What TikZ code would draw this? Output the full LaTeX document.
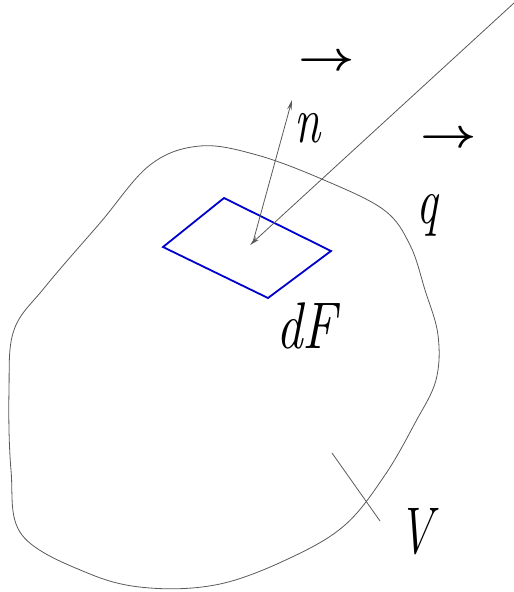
\documentclass[tikz,border=0pt]{standalone}
\usetikzlibrary{arrows.meta}
\tikzset{
  thinline/.style={draw=black!65, line width=0.8pt},
  vecarrow/.style={thinline, -{Stealth[length=10pt,width=4.5pt]}},
  patch/.style={draw=blue!80!black, line width=1.8pt, line join=miter},
  lbl/.style={inner sep=0pt, anchor=base west, font=\fontsize{66}{70}\selectfont\itshape},
  arr/.style={inner sep=0pt, anchor=base west}
}
\newcommand{\vecsign}{\scalebox{4.9}[4.1]{\boldmath$\rightarrow$}}
\newcommand{\lblsq}[1]{\scalebox{0.72}[1]{#1}}
\begin{document}
\begin{tikzpicture}[x=1pt,y=-1pt]
\useasboundingbox (0,0) rectangle (514,592);
% volume outline
\draw[thinline] plot[smooth cycle, tension=0.6] coordinates {
 (200,146) (257,155) (324,180) (384,210) (410,245) (425,290) (438,335)
 (436,380) (415,423) (385,475) (345,525) (290,558) (220,584) (150,588)
 (90,574) (22,535) (11,470) (9,390) (14,330) (45,287) (100,223) (150,165)};
% surface element
\draw[patch] (163,247) -- (224,198) -- (331,251) -- (268,298) -- cycle;
% vectors
\coordinate (c) at (250,245);
\coordinate (nbase) at (253,242);
\coordinate (ntip) at (292,100);
\coordinate (qstart) at (514,3);
\draw[vecarrow] (nbase) -- (ntip);
\draw[vecarrow] (qstart) -- (c);
% V leader
\coordinate (v1) at (332,453);
\coordinate (v2) at (380,521);
\draw[thinline] (v1) -- (v2);
% labels
\node[lbl] (n) at (294,142) {\lblsq{n}};
\node[arr] (narr) at (298,70) {\vecsign};
\node[lbl] (q) at (416,223) {\lblsq{q}};
\node[arr] (qarr) at (420,147) {\vecsign};
\node[lbl] (dF) at (276,348) {\scalebox{0.8}[1]{dF}};
\node[lbl] (V) at (398,553) {\lblsq{V}};
\end{tikzpicture}
\end{document}
